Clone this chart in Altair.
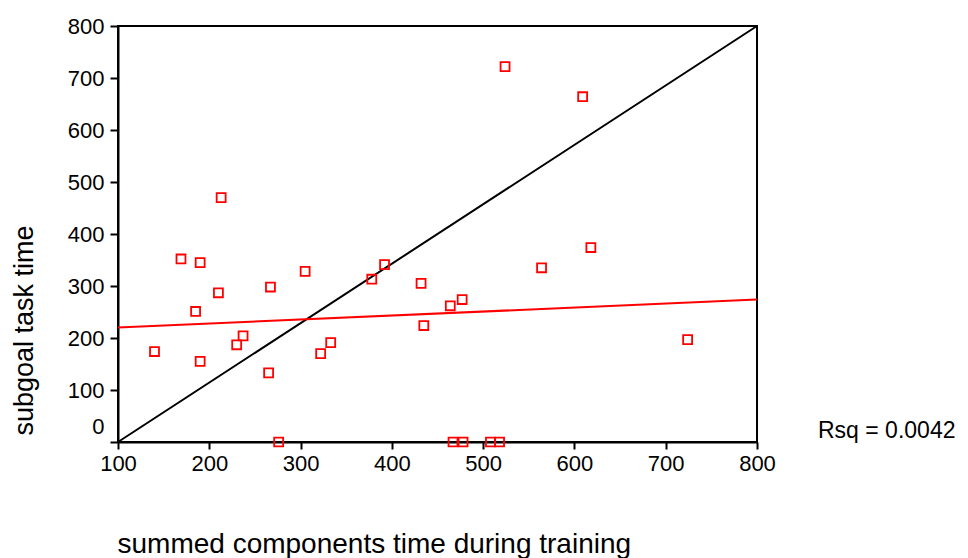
import altair as alt
import pandas as pd

# Scatter data
train_time = [213, 169, 190, 305, 267, 210, 432, 378, 392, 185,
              435, 237, 230, 333, 322, 140, 190, 265, 276, 524,
              609, 618, 564, 477, 464, 724, 467, 478, 508, 518]
task_time = [470, 352, 345, 328, 298, 287, 305, 313, 341, 251,
             224, 204, 187, 191, 170, 174, 155, 133, 0, 722,
             664, 374, 335, 274, 262, 197, 0, 0, 0, 0]

# Reference lines
diag_x = [100, 800]
diag_y = [0, 800]
fit_x = [100, 800]
fit_y = [220, 274]

rsq_label = "Rsq = 0.0042"
x_title = "summed components time during training"
y_title = "subgoal task time"

pts = pd.DataFrame({"x": train_time, "y": task_time})
diag = pd.DataFrame({"x": diag_x, "y": diag_y})
fit = pd.DataFrame({"x": fit_x, "y": fit_y})

FONT = "Liberation Sans"

xscale = alt.Scale(domain=[100, 800], nice=False, zero=False)
yscale = alt.Scale(domain=[0, 800], nice=False)

xaxis = alt.Axis(
    values=[100, 200, 300, 400, 500, 600, 700, 800],
    title=x_title, titleFontSize=28, titleFont=FONT, titleFontWeight="normal",
    titleAnchor="start", titleAlign="left", titleX=-1, titleY=110,
    titleBaseline="alphabetic",
    labelFontSize=22, labelFont=FONT, labelPadding=4, labelFlush=False,
    tickSize=7, tickWidth=2, domainWidth=2, domainColor="black", tickColor="black",
    labelColor="black", titleColor="black", grid=False,
)
yaxis = alt.Axis(
    values=[0, 100, 200, 300, 400, 500, 600, 700, 800],
    title=y_title, titleFontSize=27, titleFont=FONT, titleFontWeight="normal",
    titleAngle=-90, titleX=-86, titleY=304, titleAlign="center",
    titleBaseline="alphabetic",
    labelFontSize=22, labelFont=FONT, labelPadding=6, labelFlush=False,
    labelOffset={"condition": {"test": "datum.value == 0", "value": -16}, "value": 0},
    tickSize=8, tickWidth=2, domainWidth=2, domainColor="black", tickColor="black",
    labelColor="black", titleColor="black", grid=False,
)

diag_line = alt.Chart(diag).mark_line(color="black", strokeWidth=2).encode(
    x=alt.X("x:Q", scale=xscale, axis=xaxis),
    y=alt.Y("y:Q", scale=yscale, axis=yaxis),
)
fit_line = alt.Chart(fit).mark_line(color="#ff0000", strokeWidth=2).encode(
    x=alt.X("x:Q", scale=xscale),
    y=alt.Y("y:Q", scale=yscale),
)
points = alt.Chart(pts).mark_point(
    shape="square", filled=False, color="#ff0000", size=80, strokeWidth=1.8, opacity=1
).encode(
    x=alt.X("x:Q", scale=xscale),
    y=alt.Y("y:Q", scale=yscale),
)
rsq = alt.Chart(pd.DataFrame({"t": [rsq_label]})).mark_text(
    align="left", baseline="alphabetic", fontSize=23, font=FONT, color="black"
).encode(
    text="t:N", x=alt.value(700), y=alt.value(412)
)

chart = alt.layer(diag_line, fit_line, points, rsq).properties(
    width=639, height=416,
    background="white",
    autosize=alt.AutoSizeParams(type="none"),
    padding={"left": 110, "top": 18, "right": 200, "bottom": 124},
).configure_view(stroke="black", strokeWidth=2)

chart.save("out.html", embed_options={"renderer": "svg", "actions": False})
